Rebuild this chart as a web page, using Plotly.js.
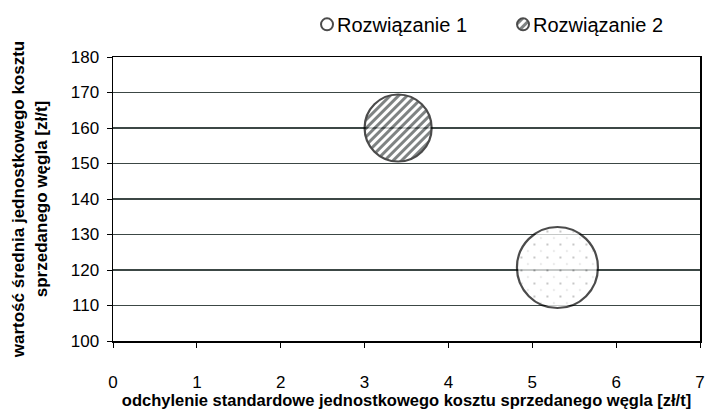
<!DOCTYPE html>
<html>
<head>
<meta charset="utf-8">
<script src="https://cdn.plot.ly/plotly-3.0.1.min.js"></script>
<style>html,body{margin:0;padding:0;background:#fff}#chart{width:705px;height:409px}</style>
</head>
<body>
<div id="chart"></div>
<script>
// Data
const seriesNames = ["Rozwiązanie 1", "Rozwiązanie 2"];
const stdDev = [5.3, 3.4];          // odchylenie standardowe [zł/t]
const meanCost = [120.7, 160];      // wartość średnia [zł/t]
const bubbleSize = [1.46, 1.0];     // relative bubble size
const yTickVals = [100, 110, 120, 130, 140, 150, 160, 170, 180];
const xTickVals = [0, 1, 2, 3, 4, 5, 6, 7];

const font = "Liberation Sans, Arial, sans-serif";
const traces = seriesNames.map((name, i) => ({
  type: "scatter",
  mode: "markers",
  name: name,
  x: [stdDev[i]],
  y: [meanCost[i]],
  marker: {
    size: [bubbleSize[i]],
    sizemode: "area",
    sizeref: 2 * 1.46 / (81 * 81),
    color: "#ffffff",
    line: {color: "#000000", width: 2.2}
  },
  hoverinfo: "x+y"
}));

const layout = {
  width: 705, height: 409,
  margin: {l: 113, r: 5, t: 53, b: 68},
  paper_bgcolor: "#ffffff",
  plot_bgcolor: "#ffffff",
  font: {family: font, color: "#000", size: 17},
  showlegend: true,
  legend: {
    orientation: "h", x: 0.3135, xanchor: "left", y: 1.115, yanchor: "middle",
    font: {family: font, size: 20, color: "#000"},
    itemsizing: "constant", bgcolor: "rgba(0,0,0,0)",
    entrywidth: 151, entrywidthmode: "pixels"
  },
  xaxis: {
    range: [0, 7], tickvals: xTickVals, ticks: "outside", ticklen: 5, tickcolor: "#000",
    showgrid: false, zeroline: false, showline: true, linecolor: "#000", linewidth: 1.5,
    mirror: true, ticklabelstandoff: 20, ticklabeloverflow: "allow",
    tickfont: {family: font, size: 17, color: "#000"},
    title: {text: "odchylenie standardowe jednostkowego kosztu sprzedanego węgla [zł/t]",
            font: {family: font, size: 16.5, color: "#000", weight: "bold"}, standoff: 0}
  },
  yaxis: {
    range: [100, 180], tickvals: yTickVals, ticks: "outside", ticklen: 5, tickcolor: "#000",
    showgrid: true, gridcolor: "#3c4745", gridwidth: 1.8, zeroline: false,
    showline: true, linecolor: "#000", linewidth: 1.5, mirror: true, ticklabelstandoff: 4,
    tickfont: {family: font, size: 17, color: "#000"},
    title: {text: "wartość średnia jednostkowego kosztu<br>sprzedanego węgla [zł/t]",
            font: {family: font, size: 17, color: "#000", weight: "bold"}, standoff: 19}
  }
};

const gd = document.getElementById("chart");
Plotly.newPlot(gd, traces, layout, {staticPlot: true}).then(() => {
  const NS = "http://www.w3.org/2000/svg";
  const svg = gd.querySelector("svg.main-svg");
  let defs = svg.querySelector("defs");
  if (!defs) { defs = document.createElementNS(NS, "defs"); svg.insertBefore(defs, svg.firstChild); }
  function el(tag, attrs, parent) {
    const e = document.createElementNS(NS, tag);
    for (const k in attrs) e.setAttribute(k, attrs[k]);
    if (parent) parent.appendChild(e);
    return e;
  }
  // hatch pattern
  const hatch = el("pattern", {id: "hatchPat", width: 6, height: 6, patternUnits: "userSpaceOnUse", patternTransform: "rotate(45)"}, defs);
  el("rect", {x: 0, y: 0, width: 6, height: 6, fill: "#ffffff"}, hatch);
  el("rect", {x: 0, y: 0, width: 3, height: 6, fill: "#4a4f4f"}, hatch);
  // dots pattern
  const dots = el("pattern", {id: "dotPat", width: 13, height: 13, patternUnits: "userSpaceOnUse"}, defs);
  el("rect", {x: 0, y: 0, width: 13, height: 13, fill: "#ffffff"}, dots);
  el("circle", {cx: 3, cy: 3, r: 0.9, fill: "#8a8a8a"}, dots);
  el("circle", {cx: 9.5, cy: 9.5, r: 0.7, fill: "#b0b0b0"}, dots);

  const fills = ["url(#dotPat)", "url(#hatchPat)"];
  const legendFills = ["#ffffff", "url(#hatchPat)"];
  gd.querySelectorAll(".scatterlayer .trace").forEach((t, i) => {
    t.querySelectorAll("path.point").forEach(p => { p.style.fill = fills[i]; });
  });
  gd.querySelectorAll(".legend .traces").forEach((t, i) => {
    t.querySelectorAll(".legendpoints path").forEach(p => { p.style.fill = legendFills[i]; });
    const lp = t.querySelector(".legendpoints");
    if (lp) lp.setAttribute("transform", "translate(10,0)");
  });
});
</script>
</body>
</html>
